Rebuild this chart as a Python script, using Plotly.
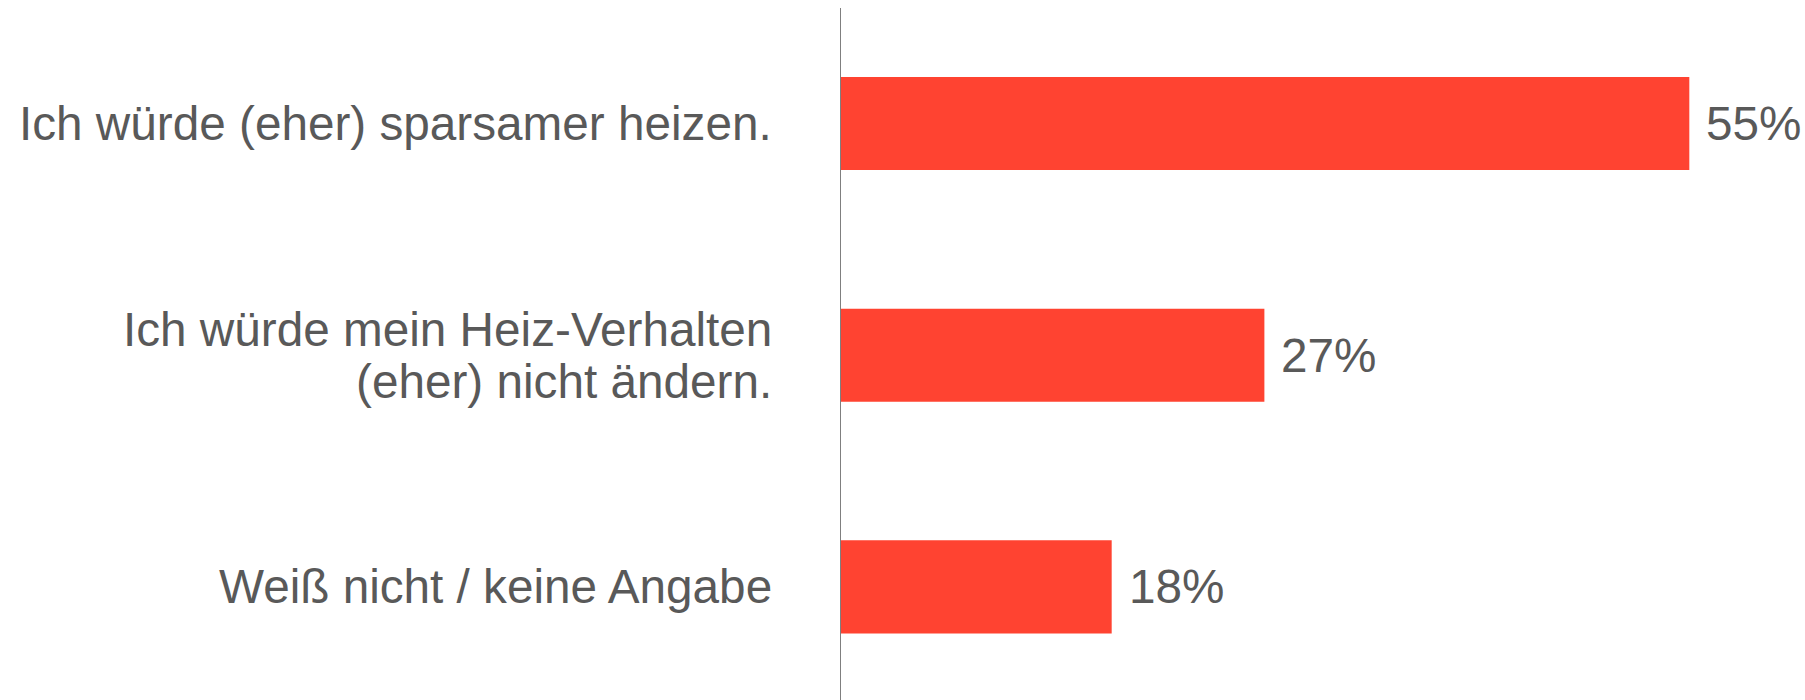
import plotly.graph_objects as go

categories = [
    "Ich würde (eher) sparsamer heizen.",
    "Ich würde mein Heiz-Verhalten<br>(eher) nicht ändern.",
    "Weiß nicht / keine Angabe",
]
values = [55.0, 27.45, 17.55]
value_labels = ["55%", "27%", "18%"]

TEXT_COLOR = "#595959"
BAR_COLOR = "#FF4331"
FONT = "Liberation Sans, Arial, sans-serif"
FS = 47.7

fig = go.Figure()
fig.add_trace(go.Bar(
    x=values, y=categories, orientation="h",
    marker=dict(color=BAR_COLOR, line=dict(width=0)),
    hoverinfo="skip",
))

annotations = []
for cat, v, lab in zip(categories, values, value_labels):
    annotations.append(dict(
        x=v, y=cat, xref="x", yref="y", text=lab, showarrow=False,
        xanchor="left", yanchor="middle", xshift=15,
        font=dict(family=FONT, size=FS, color=TEXT_COLOR),
    ))
    lines = cat.split("<br>")
    n = len(lines)
    lh = 52
    for i, ln in enumerate(lines):
        annotations.append(dict(
            x=0, y=cat, xref="paper", yref="y", text=ln, showarrow=False,
            xanchor="right", yanchor="middle", xshift=-67,
            yshift=((n - 1) / 2 - i) * lh,
            font=dict(family=FONT, size=FS, color=TEXT_COLOR),
        ))

fig.update_layout(
    width=1805, height=700,
    margin=dict(l=841, r=0, t=8, b=0),
    paper_bgcolor="white", plot_bgcolor="white",
    showlegend=False,
    bargap=0.598,
    annotations=annotations,
    xaxis=dict(range=[0, 62.5], visible=False, fixedrange=True),
    yaxis=dict(
        showticklabels=False, ticks="",
        showgrid=False, zeroline=False,
        showline=True, linecolor="#7F7F7F", linewidth=1,
    ),
)
fig.update_yaxes(autorange=False, range=[2.488, -0.4985])

fig.write_html("out.html")
